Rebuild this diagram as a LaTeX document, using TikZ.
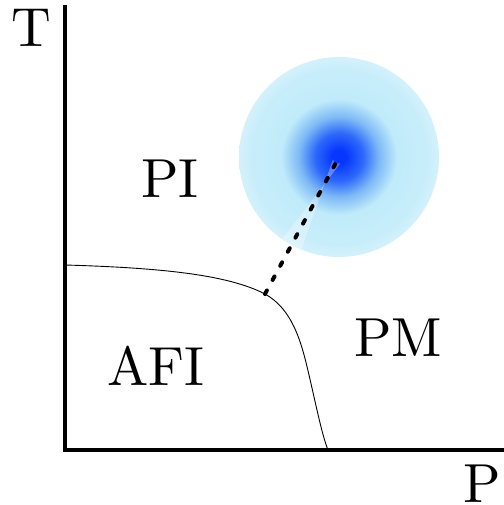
\documentclass[tikz,border=0pt]{standalone}
\usepackage{fontspec}
\setmainfont{lmroman10-regular.otf}
\usepackage{tikz}
\usetikzlibrary{calc,positioning}
\definecolor{qcore}{RGB}{0,45,255}
\definecolor{qmid}{RGB}{45,105,250}
\definecolor{qsoft}{RGB}{125,185,246}
\definecolor{qhalo}{RGB}{192,235,250}
\definecolor{qedge}{RGB}{212,241,251}
\pgfdeclareradialshading{qglow}{\pgfpoint{0bp}{0bp}}{color(0bp)=(qcore); color(1.5bp)=(qcore!90!qmid); color(6bp)=(qmid); color(10bp)=(qsoft); color(14.5bp)=(qhalo); color(22bp)=(qhalo!60!qedge); color(25bp)=(qedge); color(50bp)=(qedge)}
\tikzset{
    axis/.style={line width=4pt, line cap=rect},
    border/.style={line width=0.9pt},
    link/.style={line width=4pt, line cap=round, dash pattern=on 4pt off 12pt},
    region/.style={inner sep=0pt, font=\fontsize{55}{60}\selectfont},
    axislabel/.style={inner sep=0pt, font=\fontsize{55}{60}\selectfont}
}

\begin{document}
\begin{tikzpicture}[x=1pt, y=-1pt]
    \useasboundingbox (0,0) rectangle (503,505);

    % Axes
    \coordinate (O) at (65,450);
    \coordinate (top) at (65,7);
    \coordinate (right) at (505,450);
    \draw[axis] (top) -- (O) -- (right);
    \node[axislabel] (T) at (31,28) {T};
    \node[axislabel] (P) at (482,484) {P};

    % Blob
    \coordinate (qc) at (339,157);
    \shade[shading=qglow] (qc) circle (100);
    \coordinate (jn) at (265,294);
    \fill[white, opacity=0.3] ($(qc)!5pt!90:(jn)$) -- ($(qc)!100pt!(jn)!11pt!90:(qc)$)
        -- ($(qc)!100pt!(jn)!11pt!-90:(qc)$) -- ($(qc)!5pt!-90:(jn)$) -- cycle;

    % Boundary
    \draw[border] (65,265) .. controls (170,268) and (230,276) .. (jn)
        .. controls (292,309) and (301,340) .. (309,375)
        .. controls (316,405) and (322,435) .. (328,450);
    \draw[link] (jn) -- (qc);
    \fill[qcore!85!qmid] (qc) circle (6.5);

    % Regions
    \node[region] (PI) at (170,179) {PI};
    \node[region] (PM) at (398,338) {PM};
    \node[region] (AFI) at (156,366) {AFI};
\end{tikzpicture}
\end{document}
